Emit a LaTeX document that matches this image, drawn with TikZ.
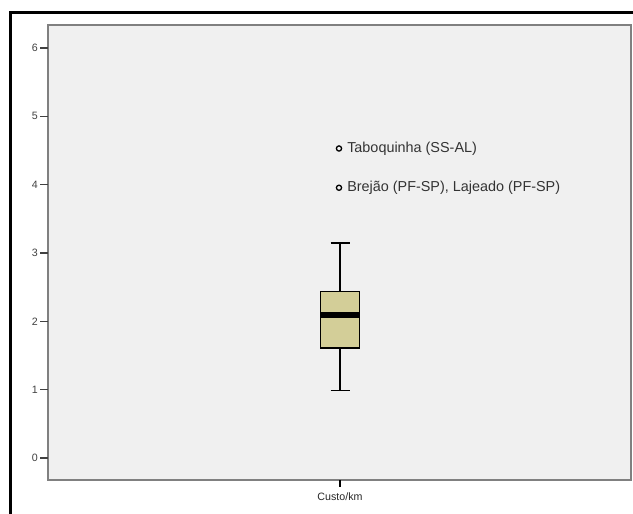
\documentclass[tikz,border=0pt]{standalone}
\usepackage{fontspec}
\setmainfont{Liberation Sans}
\definecolor{plotbg}{RGB}{240,240,240}
\definecolor{boxfill}{RGB}{211,206,152}
\definecolor{framegray}{RGB}{128,128,128}

\newcommand{\scaler}{0.75pt}
\newcommand{\plotleft}{48}
\newcommand{\plotright}{631}
\newcommand{\plottop}{25}
\newcommand{\plotbottom}{480}
\newcommand{\yzero}{458}
\newcommand{\yunit}{68.33}
\newcommand{\xmid}{340}
\newcommand{\boxhalf}{19.5}
\newcommand{\caphalf}{9.5}

\begin{document}
\begin{tikzpicture}[x=\scaler, y=-\scaler]
\useasboundingbox (0,0) rectangle (633,514);
  % frame and plot area
  \draw [line width=3*\scaler] (10,514) -- (10,12) -- (633,12);
  \draw [fill=plotbg, draw=framegray, line width=2*\scaler] (\plotleft,\plottop) rectangle (\plotright,\plotbottom);

  % y axis
  \foreach \v in {0,...,6} {
    \draw [line width=1.2*\scaler, color=black!75] (40,\yzero-\v*\yunit) -- (\plotleft,\yzero-\v*\yunit);
    \node [left, inner sep=1.5pt, font=\fontsize{8}{9}\selectfont, text=black!75] (tick\v) at (40,\yzero-\v*\yunit) {\v};
  }

  % x axis
  \coordinate (X1) at (\xmid, \plotbottom);
  \coordinate (X2) at (\xmid, \plotbottom+7);
  \draw [line width=1.2*\scaler] (X1) -- (X2);
  \node [inner sep=0pt, font=\fontsize{8}{9}\selectfont, text=black!85] (xlabel) at (\xmid, 497) {Custo/km};

  % box plot
  \coordinate (W1) at (\xmid, \yzero-3.15*\yunit);
  \coordinate (W2) at (\xmid, \yzero-0.99*\yunit);
  \coordinate (Q3) at (\xmid, \yzero-2.44*\yunit);
  \coordinate (Q1) at (\xmid, \yzero-1.61*\yunit);
  \draw [line width=1.5*\scaler] (W1) -- (Q3) (Q1) -- (W2);
  \draw [line width=1.5*\scaler] ([xshift=-\caphalf*\scaler]W1) -- ([xshift=\caphalf*\scaler]W1);
  \draw [line width=1.5*\scaler] ([xshift=-\caphalf*\scaler]W2) -- ([xshift=\caphalf*\scaler]W2);
  \draw [fill=boxfill, line width=1.5*\scaler] ([xshift=-\boxhalf*\scaler]Q3) rectangle ([xshift=\boxhalf*\scaler]Q1);
  \draw [line width=6*\scaler] (\xmid-\boxhalf, \yzero-2.09*\yunit) -- (\xmid+\boxhalf, \yzero-2.09*\yunit);

  % outliers
  \draw [line width=1.3*\scaler] (\xmid-1, \yzero-4.53*\yunit) circle (2.6*\scaler);
  \node [right, inner sep=0pt, font=\fontsize{10.8}{12}\selectfont, text=black!80] (out1) at (\xmid+7, \yzero-4.53*\yunit) {Taboquinha (SS-AL)};
  \draw [line width=1.3*\scaler] (\xmid-1, \yzero-3.955*\yunit) circle (2.6*\scaler);
  \node [right, inner sep=0pt, font=\fontsize{10.8}{12}\selectfont, text=black!80] (out2) at (\xmid+7, \yzero-3.955*\yunit) {Brejão (PF-SP), Lajeado (PF-SP)};
\end{tikzpicture}
\end{document}
